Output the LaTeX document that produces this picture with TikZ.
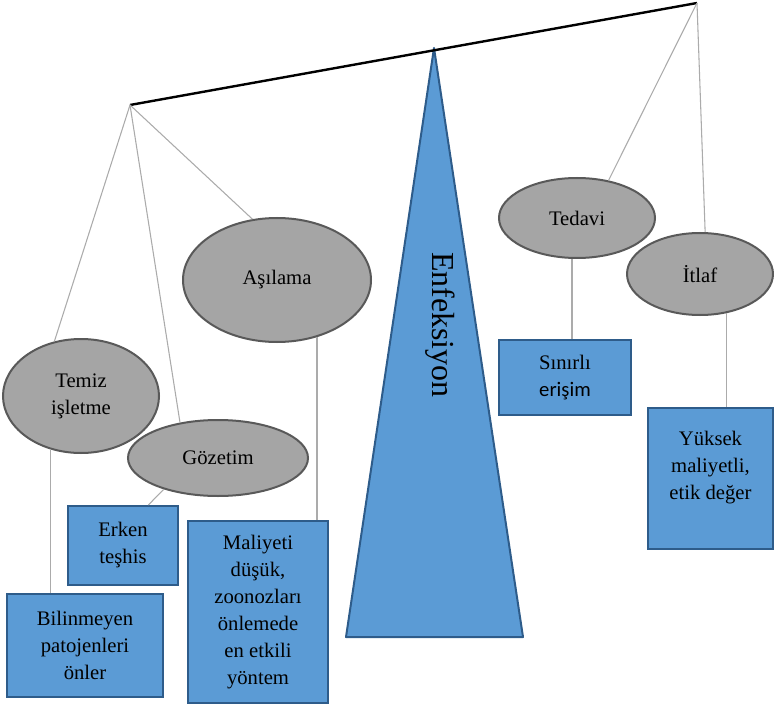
\documentclass[tikz,border=0pt]{standalone}
\usepackage{fontspec}
\setmainfont{Liberation Serif}
\newfontfamily\calibri{Carlito}
\usetikzlibrary{shapes.geometric}
\definecolor{mavi}{HTML}{5B9BD5}
\definecolor{koyumavi}{HTML}{2E5C8A}
\definecolor{gri}{HTML}{A5A5A5}
\definecolor{koyugri}{HTML}{595959}
\definecolor{acikgri}{HTML}{ABABAB}
\newcommand{\yazi}  {\fontsize{15.5pt}{20.25pt}\selectfont}
\newcommand{\buyuk} {\fontsize{24pt}{28pt}\selectfont}

\begin{document}
\begin{tikzpicture}[x=0.75pt,y=-0.75pt,
   oval/.style={ellipse,draw=koyugri,fill=gri,line width=1.5pt,inner sep=0pt,align=center,font=\yazi},
   kutu/.style={rectangle,draw=koyumavi,fill=mavi,line width=1.5pt,inner sep=0pt,align=center,font=\yazi},
   bag/.style={draw=acikgri,line width=0.8pt},
   kol/.style={draw=black,line width=1.8pt}]
   \useasboundingbox (0,0) rectangle (774,709);
   % terazi kolu
   \coordinate (solkol) at (130,105);
   \coordinate (sagkol) at (697,3);
   \filldraw[draw=koyumavi,fill=mavi,line width=1.5pt,line join=round]
     (434,48) -- (523,637) -- (346,637) -- cycle;
   \node[rotate=-90,font=\buyuk] (enfeksiyon) at (440,325) {Enfeksiyon};
   \draw[kol] (solkol) -- (sagkol);
   % ovaller
   \node[oval,minimum width=141pt,minimum height=93pt]   (asilama) at (277,280) {Aşılama};
   \node[oval,minimum width=117pt,minimum height=85.5pt] (temiz)   at (81,396)  {Temiz\\işletme};
   \node[oval,minimum width=135pt,minimum height=57pt]   (gozetim) at (218,458) {Gözetim};
   \node[oval,minimum width=117pt,minimum height=60pt]   (tedavi)  at (577,218) {Tedavi};
   \node[oval,minimum width=109.5pt,minimum height=61.5pt] (itlaf) at (700,274) {İtlaf};
   % kutular
   \node[kutu,minimum width=82.5pt,minimum height=59.25pt] (erken)      at (123,545.5) {Erken\\teşhis};
   \node[kutu,minimum width=117pt,minimum height=77.25pt]  (bilinmeyen) at (85,645.5)  {Bilinmeyen\\patojenleri\\önler};
   \node[kutu,minimum width=105pt,minimum height=136.5pt]  (maliyet)    at (258,612)   {Maliyeti\\düşük,\\zoonozları\\önlemede\\en etkili\\yöntem};
   \node[kutu,minimum width=99pt,minimum height=56.25pt]   (sinirli)    at (565,377.5) {Sınırlı\\{\calibri erişim}};
   \node[kutu,minimum width=93.75pt,minimum height=105.75pt] (yuksek)   at (710.5,478.5) {};
   \node[align=center,font=\yazi] (yuksekyazi) at ([yshift=8pt]yuksek.center) {Yüksek\\maliyetli,\\etik değer};
   % baglar
   \draw[bag] (solkol) -- (temiz.116);
   \draw[bag] (solkol) -- (gozetim.137);
   \draw[bag] (solkol) -- (asilama.112);
   \draw[bag] (sagkol) -- (tedavi.50);
   \draw[bag] (sagkol) -- (itlaf.83);
   \draw[bag] (temiz.240)   -- (temiz.240 |- bilinmeyen.north);
   \draw[bag] (gozetim.210) -- (erken.58);
   \draw[bag] (asilama.305) -- (asilama.305 |- maliyet.north);
   \draw[bag] (tedavi.263)  -- (tedavi.263 |- sinirli.north);
   \draw[bag] (itlaf.304)   -- (itlaf.304 |- yuksek.north);
\end{tikzpicture}
\end{document}
